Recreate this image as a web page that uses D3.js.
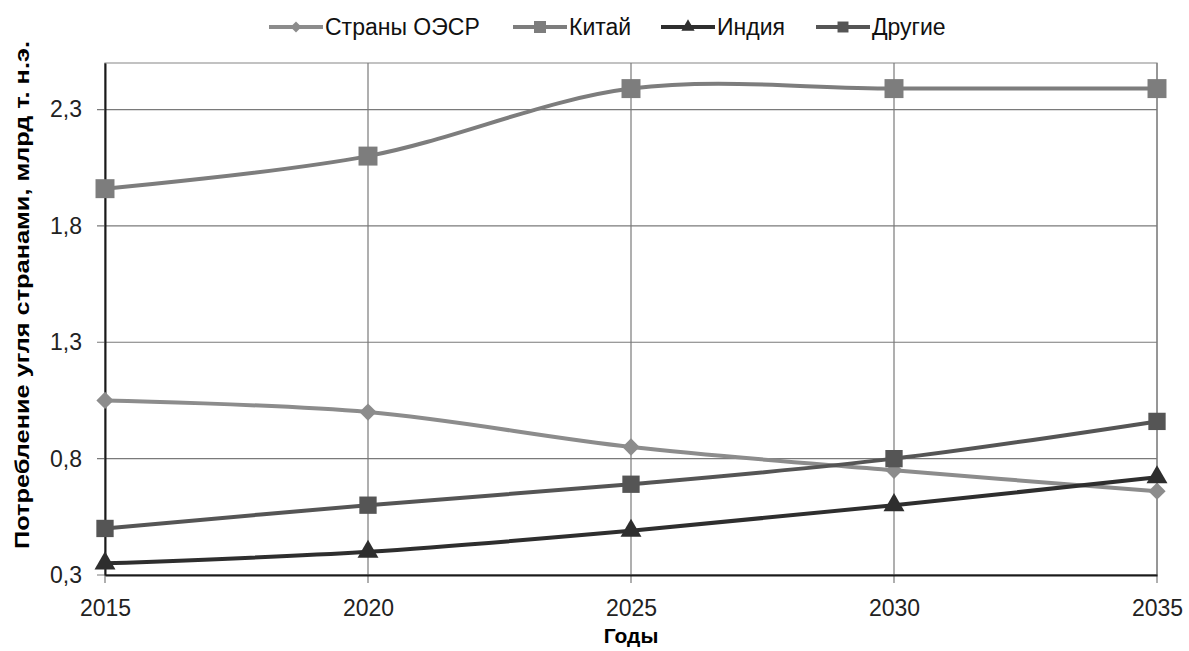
<!DOCTYPE html>
<html>
<head>
<meta charset="utf-8">
<script src="https://cdn.jsdelivr.net/npm/d3@7"></script>
<style>
  body { margin: 0; background: #fff; }
  text { font-family: "Liberation Sans", Arial, sans-serif; }
</style>
</head>
<body>
<div class="chart"></div>
<script>
// years on the x axis
const years = [2015, 2020, 2025, 2030, 2035];
const yTicks = [0.3, 0.8, 1.3, 1.8, 2.3];

// coal consumption, bn t.c.e.
const oecd = [1.05, 1.0, 0.85, 0.75, 0.66];
const china = [1.96, 2.1, 2.39, 2.39, 2.39];
const india = [0.35, 0.4, 0.49, 0.6, 0.72];
const others = [0.5, 0.6, 0.69, 0.8, 0.96];

const seriesNames = ["Страны ОЭСР", "Китай", "Индия", "Другие"];

const series = [
    { name: seriesNames[0], values: oecd, color: "#8c8c8c", symbol: d3.symbolDiamond2, size: 190 },
    { name: seriesNames[1], values: china, color: "#7d7d7d", symbol: d3.symbolSquare, size: 360 },
    { name: seriesNames[2], values: india, color: "#2e2e2e", symbol: d3.symbolTriangle, size: 190 },
    { name: seriesNames[3], values: others, color: "#555555", symbol: d3.symbolSquare, size: 300 }
];

const width = 1189;
const height = 651;
const margin = { top: 63, right: 32, bottom: 76, left: 105 };

const svg = d3.select(".chart")
    .append("svg")
    .attr("width", width)
    .attr("height", height);

const x = d3.scaleLinear()
    .domain([2015, 2035])
    .range([margin.left, width - margin.right]);

const y = d3.scaleLinear()
    .domain([0.3, 2.5])
    .range([height - margin.bottom, margin.top]);

// plot frame (top/right light)
svg.append("rect")
    .attr("x", x(2015))
    .attr("y", y(2.5))
    .attr("width", x(2035) - x(2015))
    .attr("height", y(0.3) - y(2.5))
    .attr("fill", "none")
    .attr("stroke", "#9a9a9a")
    .attr("stroke-width", 1.2);

// grid lines
svg.selectAll(".hgrid")
    .data(yTicks)
    .enter()
    .append("line")
    .attr("x1", x(2015) - 8)
    .attr("x2", x(2035))
    .attr("y1", d => y(d))
    .attr("y2", d => y(d))
    .attr("stroke", "#7a7a7a")
    .attr("stroke-width", 1.2);

svg.selectAll(".vgrid")
    .data(years)
    .enter()
    .append("line")
    .attr("x1", d => x(d))
    .attr("x2", d => x(d))
    .attr("y1", y(2.5))
    .attr("y2", y(0.3) + 8)
    .attr("stroke", "#7a7a7a")
    .attr("stroke-width", 1.2);

// axes
const yAxis = d3.axisLeft(y)
    .tickValues(yTicks)
    .tickSize(0)
    .tickPadding(23)
    .tickFormat(d => d3.format(".1f")(d).replace(".", ","));

const xAxis = d3.axisBottom(x)
    .tickValues(years)
    .tickSize(0)
    .tickPadding(25)
    .tickFormat(d3.format("d"));

const gy = svg.append("g")
    .attr("transform", `translate(${x(2015)},0)`)
    .call(yAxis);
gy.select(".domain").attr("stroke", "#1a1a1a").attr("stroke-width", 2);
gy.selectAll("text").attr("font-size", 23).attr("fill", "#222")
    .attr("font-family", "Liberation Sans, Arial, sans-serif");

const gx = svg.append("g")
    .attr("transform", `translate(0,${y(0.3)})`)
    .call(xAxis);
gx.select(".domain").attr("stroke", "#1a1a1a").attr("stroke-width", 2);
gx.selectAll("text").attr("font-size", 23).attr("fill", "#222")
    .attr("font-family", "Liberation Sans, Arial, sans-serif");

// axis titles
svg.append("text")
    .attr("x", x(2025))
    .attr("y", 643)
    .attr("text-anchor", "middle")
    .attr("font-size", 21)
    .attr("font-weight", "bold")
    .text("Годы");

svg.append("text")
    .attr("transform", "translate(29,295) rotate(-90)")
    .attr("text-anchor", "middle")
    .attr("font-size", 21)
    .attr("font-weight", "bold")
    .attr("textLength", 508)
    .attr("lengthAdjust", "spacingAndGlyphs")
    .text("Потребление угля странами, млрд т. н.э.");

// lines
const line = d3.line()
    .x((d, i) => x(years[i]))
    .y(d => y(d))
    .curve(d3.curveCatmullRom.alpha(0.5));

svg.selectAll(".series")
    .data(series)
    .enter()
    .append("path")
    .attr("d", d => line(d.values))
    .attr("fill", "none")
    .attr("stroke", d => d.color)
    .attr("stroke-width", 4);

series.forEach(function(s) {
    svg.selectAll(null)
        .data(s.values)
        .enter()
        .append("path")
        .attr("transform", (d, i) => `translate(${x(years[i])},${y(d)})`)
        .attr("d", d3.symbol().type(s.symbol).size(s.size))
        .attr("fill", s.color);
});

// legend
const legendX = [269, 513, 661, 816];
const legend = svg.selectAll(".legend")
    .data(series)
    .enter()
    .append("g")
    .attr("transform", (d, i) => `translate(${legendX[i]},27)`);

legend.append("line")
    .attr("x1", 0)
    .attr("x2", 54)
    .attr("stroke", d => d.color)
    .attr("stroke-width", 4);

legend.append("path")
    .attr("transform", "translate(27,0)")
    .attr("d", d => d3.symbol().type(d.symbol).size(d.size * 0.4)())
    .attr("fill", d => d.color);

legend.append("text")
    .attr("x", 56)
    .attr("y", 8)
    .attr("font-size", 23)
    .attr("fill", "#111")
    .text(d => d.name);
</script>
</body>
</html>
